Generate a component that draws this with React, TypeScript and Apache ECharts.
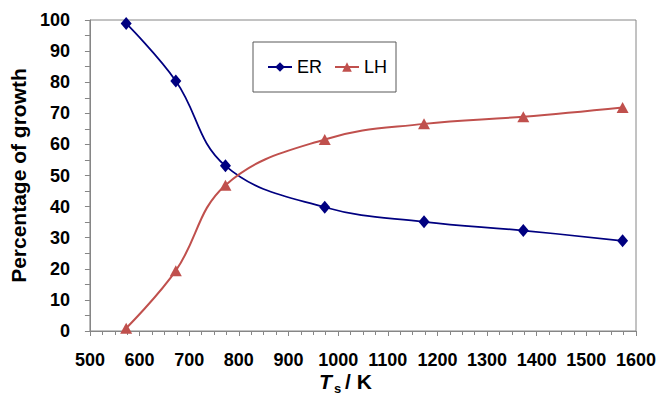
import React, { useEffect, useRef } from "react";
import * as echarts from "echarts";

const temperatures = [573, 673, 773, 973, 1173, 1373, 1573];
const erValues = [98.9, 80.4, 53.1, 39.8, 35.1, 32.3, 29.0];
const lhValues = [0.9, 19.4, 46.9, 61.6, 66.6, 68.9, 71.9];
const seriesNames = ["ER", "LH"];
const yAxisTitle = "Percentage of growth";

const FONT = "'Liberation Sans', Arial, sans-serif";

export default function App() {
  const ref = useRef<HTMLDivElement>(null);
  useEffect(() => {
    document.body.style.margin = "0";
    if (!ref.current) return;
    const chart = echarts.init(ref.current, null, { renderer: "svg" });
    const axisColor = "#868686";
    chart.setOption({
      animation: false,
      backgroundColor: "#ffffff",
      textStyle: { fontFamily: FONT },
      grid: {
        left: 84,
        top: 20,
        right: 32,
        bottom: 64,
        show: true,
        borderColor: axisColor,
        borderWidth: 1,
        backgroundColor: "transparent",
      },
      legend: {
        left: 253,
        top: 42,
        padding: [16, 9, 16, 14],
        borderColor: "#595959",
        borderWidth: 1,
        itemWidth: 24,
        itemHeight: 12,
        itemGap: 12,
        textStyle: { fontFamily: FONT, fontSize: 18, color: "#000" },
        data: seriesNames,
      },
      xAxis: {
        type: "value",
        min: 500,
        max: 1600,
        interval: 100,
        axisLine: { show: true, lineStyle: { color: axisColor, width: 1 } },
        axisTick: { show: true, length: 5, inside: false, lineStyle: { color: axisColor } },
        minorTick: { show: true, splitNumber: 4, length: 4, lineStyle: { color: axisColor } },
        splitLine: { show: false },
        axisLabel: {
          margin: 20,
          fontFamily: FONT,
          fontSize: 18,
          fontWeight: "bold",
          color: "#000",
          formatter: (v: number) => String(v),
        },
      },
      yAxis: {
        type: "value",
        min: 0,
        max: 100,
        interval: 10,
        name: yAxisTitle,
        nameLocation: "middle",
        nameGap: 50,
        nameTextStyle: { fontFamily: FONT, fontSize: 21, fontWeight: "bold", color: "#000" },
        axisLine: { show: true, lineStyle: { color: axisColor, width: 1 } },
        axisTick: { show: true, length: 5, inside: false, lineStyle: { color: axisColor } },
        minorTick: { show: true, splitNumber: 2, length: 5, lineStyle: { color: axisColor } },
        splitLine: { show: false },
        axisLabel: {
          margin: 20,
          fontFamily: FONT,
          fontSize: 18,
          fontWeight: "bold",
          color: "#000",
        },
      },
      graphic: [
        {
          type: "text",
          left: 319,
          top: 371,
          style: {
            text: "T",
            font: `italic bold 21px ${FONT}`,
            fill: "#000",
          },
        },
        {
          type: "text",
          left: 334,
          top: 382,
          style: {
            text: "s",
            font: `bold 13px ${FONT}`,
            fill: "#000",
          },
        },
        {
          type: "text",
          left: 345,
          top: 371,
          style: {
            text: "/ K",
            font: `bold 21px ${FONT}`,
            fill: "#000",
          },
        },
      ],
      series: [
        {
          name: seriesNames[0],
          type: "line",
          data: temperatures.map((t, i) => [t, erValues[i]]),
          smooth: 0.4,
          symbol: "diamond",
          symbolSize: [11, 13],
          lineStyle: { color: "#000080", width: 1.75 },
          itemStyle: { color: "#000080" },
        },
        {
          name: seriesNames[1],
          type: "line",
          data: temperatures.map((t, i) => [t, lhValues[i]]),
          smooth: 0.4,
          symbol: "triangle",
          symbolSize: [12, 11],
          lineStyle: { color: "#C0504D", width: 2 },
          itemStyle: { color: "#C0504D" },
        },
      ],
    });
    return () => chart.dispose();
  }, []);
  return <div ref={ref} style={{ width: 668, height: 395 }} />;
}
